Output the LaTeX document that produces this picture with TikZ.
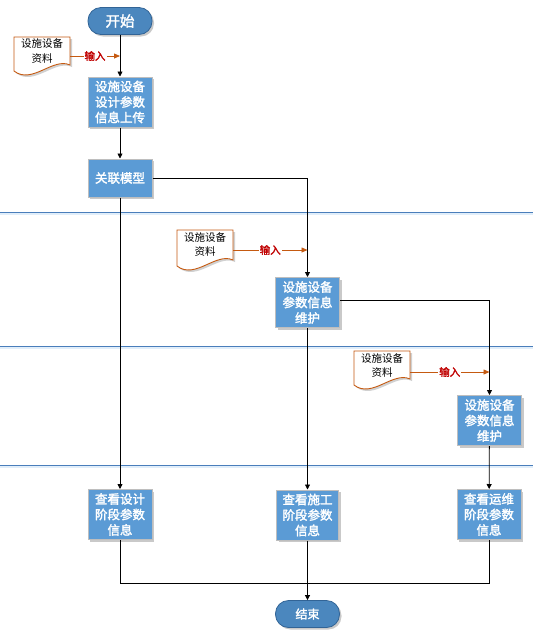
\documentclass[tikz,border=0pt]{standalone}
\usepackage{fontspec}
\setmainfont[AutoFakeBold=2]{Noto Sans CJK SC}
\usetikzlibrary{shadows,arrows.meta}
\definecolor{boxfill}{RGB}{91,155,213}
\definecolor{boxline}{RGB}{190,190,190}
\definecolor{termfill}{RGB}{75,135,190}
\definecolor{termline}{RGB}{50,100,150}
\definecolor{docline}{RGB}{197,90,17}
\definecolor{inred}{RGB}{192,0,0}
\definecolor{lane}{RGB}{74,126,187}
\definecolor{laneband}{RGB}{225,238,250}
\tikzset{
  procbox/.style={rectangle, draw=boxline, line width=1pt, fill=boxfill, text=white,
    minimum width=64pt, minimum height=50pt, inner sep=1pt, align=center,
    font=\fontsize{12.5}{15.5}\selectfont\bfseries,
    drop shadow={shadow xshift=2pt, shadow yshift=-2pt, fill=black!35, opacity=.6}},
  term/.style={rectangle, draw=termline, line width=0.8pt, fill=termfill, text=white,
    minimum width=64pt, minimum height=27pt, rounded corners=13pt, inner sep=0pt,
    drop shadow={shadow xshift=2pt, shadow yshift=-2pt, fill=black!35, opacity=.6}},
  doctext/.style={align=center, inner sep=0pt, font=\fontsize{10.5}{14}\selectfont},
  flow/.style={draw=black, line width=0.8pt, -{Triangle[length=5pt,width=5pt]}},
  plain/.style={draw=black, line width=0.8pt},
  inarrow/.style={draw=docline, line width=0.8pt, -{Triangle[length=6pt,width=5pt]}},
  inlabel/.style={fill=white, text=inred, inner sep=1pt, font=\fontsize{10.5}{12}\selectfont\bfseries},
  lanel/.style={draw=lane, line width=0.9pt},
  docshape/.style={draw=docline, line width=0.9pt, fill=white}
}
\newcommand{\docpath}[4]{%
  \fill[black!18] ({#1+2},{#2+2}) -- ({#3+2},{#2+2}) -- ({#3+2},{#4-10}) .. controls ({#3-15},{#4-18}) and ({#1+20},{#4+10}) .. ({#1+2},{#4-4}) -- cycle;
  \path[docshape] (#1,#2) -- (#3,#2) -- (#3,{#4-12}) .. controls ({#3-17},{#4-20}) and ({#1+18},{#4+8}) .. (#1,{#4-6}) -- cycle;
}
\begin{document}
\begin{tikzpicture}[x=1pt,y=-1pt]
\useasboundingbox (0,0) rectangle (533,633);
\fill[white] (0,0) rectangle (533,633);
% lanes
\foreach \yy in {212,346,465}{
  \fill[laneband] (0,\yy) rectangle (533,\yy+3);
  \draw[lanel] (0,\yy) -- (533,\yy);
}
% terminals
\node[term, font=\fontsize{14.5}{16}\selectfont\bfseries] (start) at (120,21) {开始};
\node[term, font=\fontsize{12}{14}\selectfont\bfseries] (end) at (307.5,614) {结束};
% process boxes
\node[procbox] (b1) at (120,102) {设施设备\\设计参数\\信息上传};
\node[procbox, minimum height=38pt] (b2) at (120,178) {关联模型};
\node[procbox] (b3) at (307.5,302.5) {设施设备\\参数信息\\维护};
\node[procbox] (b4) at (489.5,420.5) {设施设备\\参数信息\\维护};
\node[procbox] (b5) at (120,514.5) {查看设计\\阶段参数\\信息};
\node[procbox, minimum width=62pt] (b6) at (307.5,515) {查看施工\\阶段参数\\信息};
\node[procbox] (b7) at (489,514.5) {查看运维\\阶段参数\\信息};
% documents
\docpath{14}{37}{70}{77}
\node[doctext] (d1) at (42,51) {设施设备\\资料};
\docpath{177}{230}{233}{272}
\node[doctext] (d2) at (205,244) {设施设备\\资料};
\docpath{354}{351}{410}{391}
\node[doctext] (d3) at (382,365) {设施设备\\资料};
\coordinate (d1e) at (70,56);
\coordinate (d2e) at (233,250);
\coordinate (d3e) at (410,372);
\coordinate (j1) at (120,56);
\coordinate (j2) at (307.5,250);
\coordinate (j3) at (489.5,372);
% flow
\draw[flow] (start) -- (b1);
\draw[flow] (b1) -- (b2);
\draw[flow] (b2.east) -| (b3.north);
\draw[flow] (b3.east |- 0,300) -| (b4.north);
\draw[flow] (b2) -- (b5);
\draw[flow] (b3) -- (b6);
\draw[flow] (b4) -- (b7);
\draw[plain] (b5.south) -- (120,583) -- (489,583) -- (b7.south);
\draw[flow] (b6) -- (end);
% inputs
\draw[inarrow] (d1e) -- node[inlabel, pos=0.5] {输入} (j1);
\draw[inarrow] (d2e) -- node[inlabel, pos=0.5] {输入} (j2);
\draw[inarrow] (d3e) -- node[inlabel, pos=0.5] {输入} (j3);
\end{tikzpicture}
\end{document}
